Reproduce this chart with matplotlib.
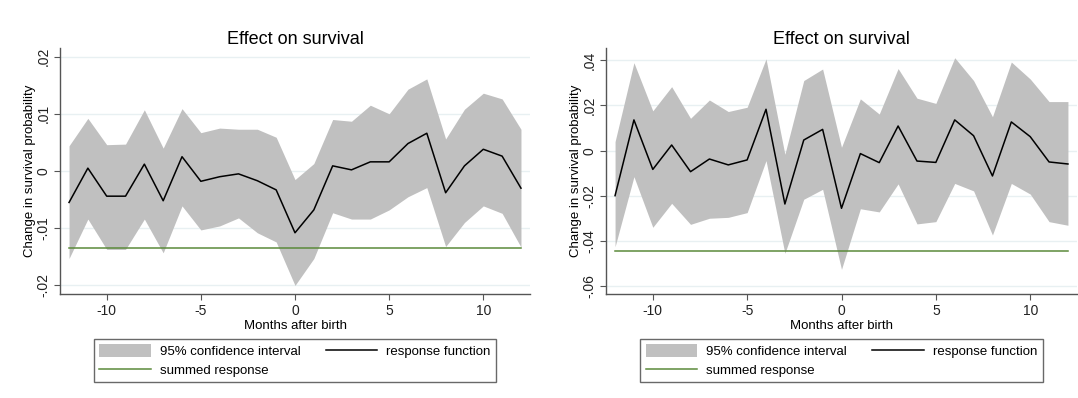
import matplotlib.pyplot as plt
import numpy as np

plt.rcParams['font.family'] = ['Liberation Sans', 'DejaVu Sans']

months = np.arange(-12, 13)

# left panel
resp_l = [-0.0055, 0.0005, -0.0044, -0.0044, 0.0012, -0.0052, 0.0025, -0.0018, -0.0010,
          -0.0005, -0.0017, -0.0033, -0.0108, -0.0068, 0.0009, 0.0002, 0.0016, 0.0016,
          0.0048, 0.0066, -0.0038, 0.0009, 0.0038, 0.0026, -0.0030]
upper_l = [0.0044, 0.0092, 0.0046, 0.0047, 0.0107, 0.0040, 0.0109, 0.0067, 0.0075,
           0.0073, 0.0073, 0.0059, -0.0015, 0.0013, 0.0090, 0.0087, 0.0115, 0.0100,
           0.0143, 0.0161, 0.0056, 0.0108, 0.0136, 0.0126, 0.0073]
lower_l = [-0.0153, -0.0084, -0.0137, -0.0137, -0.0084, -0.0143, -0.0061, -0.0103, -0.0096,
           -0.0082, -0.0108, -0.0124, -0.0200, -0.0153, -0.0073, -0.0084, -0.0084, -0.0068,
           -0.0045, -0.0029, -0.0132, -0.0090, -0.0061, -0.0074, -0.0133]
summed_l = -0.0134

# right panel
resp_r = [-0.0199, 0.0136, -0.0083, 0.0025, -0.0093, -0.0037, -0.0063, -0.0041, 0.0183,
          -0.0236, 0.0047, 0.0094, -0.0255, -0.0013, -0.0053, 0.0109, -0.0046, -0.0052,
          0.0136, 0.0066, -0.0112, 0.0127, 0.0062, -0.0050, -0.0059]
upper_r = [0.0040, 0.0389, 0.0176, 0.0283, 0.0143, 0.0224, 0.0173, 0.0192, 0.0406,
           -0.0016, 0.0310, 0.0361, 0.0015, 0.0229, 0.0162, 0.0363, 0.0232, 0.0209,
           0.0411, 0.0310, 0.0150, 0.0392, 0.0317, 0.0217, 0.0217]
lower_r = [-0.0425, -0.0115, -0.0339, -0.0233, -0.0326, -0.0299, -0.0295, -0.0274, -0.0044,
           -0.0454, -0.0215, -0.0171, -0.0525, -0.0257, -0.0271, -0.0147, -0.0324, -0.0314,
           -0.0145, -0.0178, -0.0373, -0.0145, -0.0192, -0.0314, -0.0330]
summed_r = -0.0445

yticks_l = [-0.02, -0.01, 0, 0.01, 0.02]
ylabels_l = ['-.02', '-.01', '0', '.01', '.02']
yticks_r = [-0.06, -0.04, -0.02, 0, 0.02, 0.04]
ylabels_r = ['-.06', '-.04', '-.02', '0', '.02', '.04']
xticks = [-10, -5, 0, 5, 10]

W, H = 1078, 398
fig = plt.figure(figsize=(W / 100, H / 100), dpi=100)
fig.patch.set_facecolor('white')

ci_col = '#c0c0c0'
green = '#5b8a3a'
axcol = '#555555'


def panel(x0, x1, upper, lower, resp, summed, ylim, yt, yl):
    y0, y1 = 48, 294
    ax = fig.add_axes([x0 / W, 1 - y1 / H, (x1 - x0) / W, (y1 - y0) / H])
    ax.fill_between(months, lower, upper, color=ci_col, lw=0, label='95% confidence interval')
    ax.plot(months, [summed] * len(months), color=green, lw=1.1, label='summed response')
    ax.plot(months, resp, color='black', lw=1.1, label='response function')
    ax.set_xlim(-12.48, 12.48)
    ax.set_ylim(*ylim)
    ax.set_xticks(xticks)
    ax.set_xticklabels([str(t) for t in xticks])
    ax.set_yticks(yt)
    ax.set_yticklabels(yl, rotation=90, va='center')
    for t in yt:
        ax.axhline(t, color='#e8f0f2', lw=1, zorder=0)
    for s in ['top', 'right']:
        ax.spines[s].set_visible(False)
    for s in ['left', 'bottom']:
        ax.spines[s].set_color(axcol)
        ax.spines[s].set_linewidth(1)
    ax.tick_params(colors='#222222', labelsize=10, length=4, width=0.8, color=axcol)
    ax.tick_params(axis='y', pad=3)
    ax.set_title('Effect on survival', fontsize=13, pad=2)
    ax.set_xlabel('Months after birth', fontsize=9.5, labelpad=1)
    ax.set_ylabel('Change in survival probability', fontsize=9.5, labelpad=0)
    h, l = ax.get_legend_handles_labels()
    leg = fig.legend(h, l, ncol=2,
                     loc='upper center', bbox_to_anchor=((x0 + x1) / 2 / W, 1 - 339 / H),
                     fontsize=9.5, frameon=True, fancybox=False, handlelength=3.9,
                     handleheight=1.1, handletextpad=0.7, columnspacing=1.9,
                     borderpad=0.4, labelspacing=0.4, borderaxespad=0,
                     edgecolor='#444444')
    leg.get_frame().set_linewidth(1)
    return ax


panel(60, 530, upper_l, lower_l, resp_l, summed_l, (-0.0215, 0.0215), yticks_l, ylabels_l)
panel(606, 1077, upper_r, lower_r, resp_r, summed_r, (-0.0634, 0.0454), yticks_r, ylabels_r)

fig.savefig('out.png', dpi=100)
